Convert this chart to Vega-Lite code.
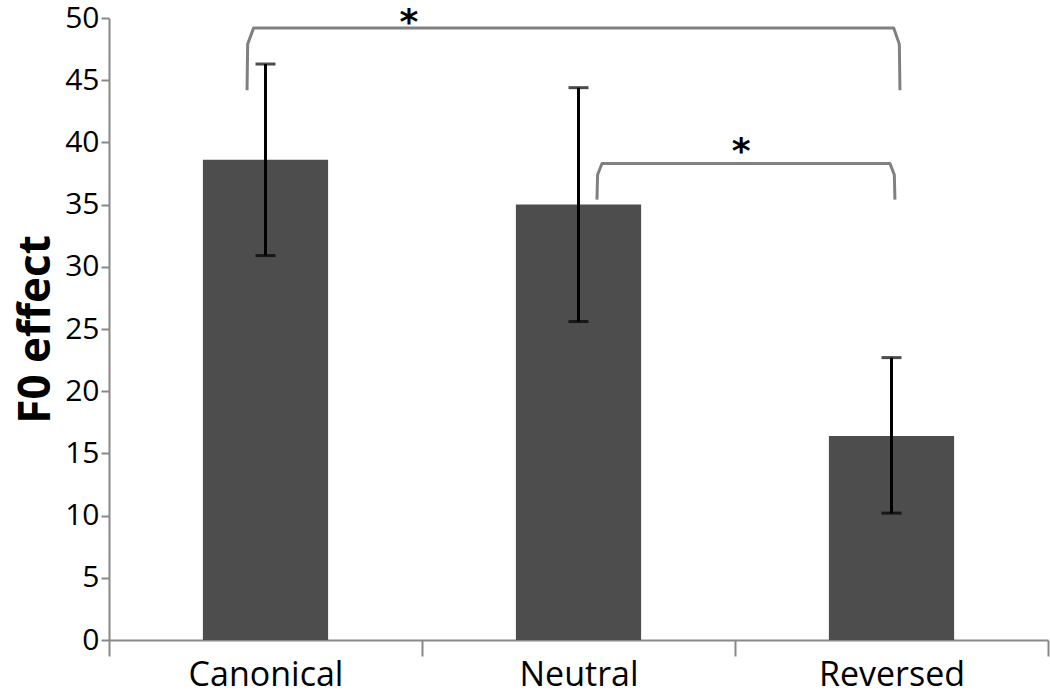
{
  "$schema": "https://vega.github.io/schema/vega-lite/v6.json",
  "width": 939,
  "height": 622,
  "autosize": {"type": "none"},
  "padding": {"left": 109, "top": 18, "right": 2, "bottom": 60},
  "background": "white",
  "config": {"view": {"stroke": null}, "font": "Open Sans"},
  "datasets": {
    "bars": [
      {"cond": "Canonical", "effect": 38.6, "lo": 30.9, "hi": 46.3},
      {"cond": "Neutral", "effect": 35.0, "lo": 25.6, "hi": 44.4},
      {"cond": "Reversed", "effect": 16.4, "lo": 10.2, "hi": 22.7}
    ],
    "brackets": [
      {"b": "A", "o": 1, "pos": 0.441, "v": 44.2},
      {"b": "A", "o": 2, "pos": 0.443, "v": 47.9},
      {"b": "A", "o": 3, "pos": 0.462, "v": 49.2},
      {"b": "A", "o": 4, "pos": 2.507, "v": 49.2},
      {"b": "A", "o": 5, "pos": 2.525, "v": 47.9},
      {"b": "A", "o": 6, "pos": 2.527, "v": 44.2},
      {"b": "B", "o": 1, "pos": 1.559, "v": 35.4},
      {"b": "B", "o": 2, "pos": 1.561, "v": 37.4},
      {"b": "B", "o": 3, "pos": 1.575, "v": 38.3},
      {"b": "B", "o": 4, "pos": 2.495, "v": 38.3},
      {"b": "B", "o": 5, "pos": 2.509, "v": 37.4},
      {"b": "B", "o": 6, "pos": 2.511, "v": 35.4}
    ],
    "stars": [
      {"pos": 0.958, "v": 49.6, "t": "*"},
      {"pos": 2.02, "v": 39.2, "t": "*"}
    ]
  },
  "layer": [
    {
      "data": {"name": "bars"},
      "layer": [
        {
          "mark": {"type": "bar", "color": "#4d4d4d"},
          "encoding": {
            "x": {
              "field": "cond", "type": "nominal", "sort": null,
              "scale": {"paddingInner": 0.6, "paddingOuter": 0.3},
              "axis": null
            },
            "y": {
              "field": "effect", "type": "quantitative",
              "scale": {"domain": [0, 50], "nice": false},
              "axis": {
                "title": "F0 effect", "titleFontSize": 44, "titleFontWeight": "bold",
                "titleColor": "#000000", "titleFont": "Open Sans", "titlePadding": 6,
                "values": [0, 5, 10, 15, 20, 25, 30, 35, 40, 45, 50],
                "labelFontSize": 30, "labelColor": "#000000", "labelPadding": 2,
                "domainColor": "#888888", "domainWidth": 2, "tickColor": "#888888",
                "tickWidth": 2, "tickSize": 8, "grid": false
              }
            }
          }
        },
        {
          "mark": {"type": "rule", "color": "#000000", "strokeWidth": 3},
          "encoding": {
            "x": {"field": "cond", "type": "nominal", "sort": null},
            "y": {"field": "lo", "type": "quantitative"},
            "y2": {"field": "hi"}
          }
        },
        {
          "mark": {"type": "tick", "color": "#000000", "size": 20, "thickness": 3},
          "encoding": {
            "x": {"field": "cond", "type": "nominal", "sort": null},
            "y": {"field": "lo", "type": "quantitative"}
          }
        },
        {
          "mark": {"type": "tick", "color": "#000000", "size": 20, "thickness": 3},
          "encoding": {
            "x": {"field": "cond", "type": "nominal", "sort": null},
            "y": {"field": "hi", "type": "quantitative"}
          }
        }
      ]
    },
    {
      "data": {"name": "brackets"},
      "mark": {"type": "line", "color": "#808080", "strokeWidth": 3, "strokeJoin": "round", "strokeCap": "butt"},
      "encoding": {
        "x": {
          "field": "pos", "type": "quantitative",
          "scale": {"domain": [0, 3], "nice": false, "zero": false},
          "axis": {
            "orient": "bottom",
            "title": null, "values": [0, 0.5, 1, 1.5, 2, 2.5, 3],
            "labelExpr": "datum.value == 0.5 ? 'Canonical' : datum.value == 1.5 ? 'Neutral' : datum.value == 2.5 ? 'Reversed' : ''",
            "labelFontSize": 34, "labelColor": "#000000", "labelFont": "Open Sans",
            "labelPadding": 2, "labelFlush": false, "labelOverlap": false, "labelAngle": 0,
            "labelLimit": 0,
            "domainColor": "#888888", "domainWidth": 2,
            "tickColor": "#888888", "tickWidth": 2, "tickSize": 16,
            "tickOpacity": {"condition": {"test": "datum.value % 1 === 0", "value": 1}, "value": 0},
            "grid": false
          }
        },
        "y": {"field": "v", "type": "quantitative"},
        "detail": {"field": "b"},
        "order": {"field": "o"}
      }
    },
    {
      "data": {"name": "stars"},
      "mark": {"type": "text", "fontSize": 36, "fontWeight": "bold", "color": "#000000", "font": "DejaVu Sans", "baseline": "middle"},
      "encoding": {
        "x": {"field": "pos", "type": "quantitative", "scale": {"domain": [0, 3], "nice": false, "zero": false}, "axis": null},
        "y": {"field": "v", "type": "quantitative"},
        "text": {"field": "t"}
      }
    }
  ],
  "resolve": {"scale": {"x": "independent"}}
}
